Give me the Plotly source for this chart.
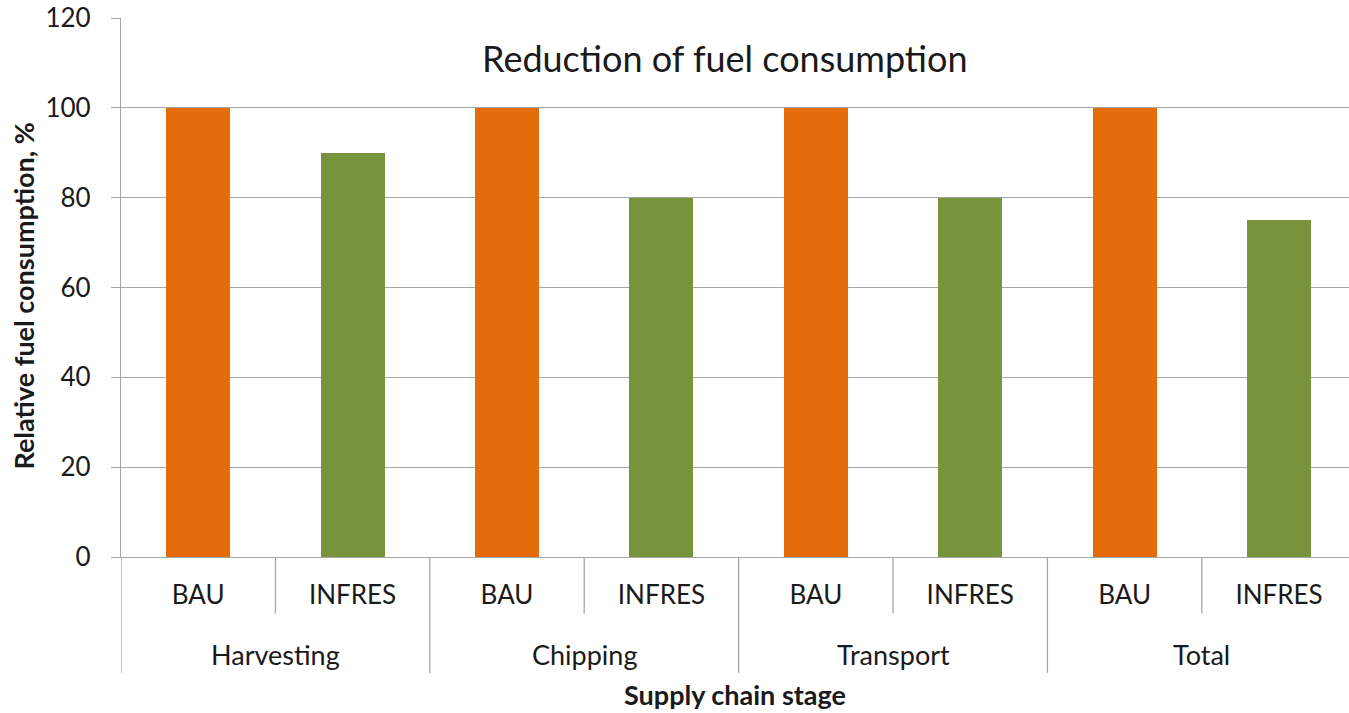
import plotly.graph_objects as go

stages = ["Harvesting", "Chipping", "Transport", "Total"]
scenarios = ["BAU", "INFRES"]
bau_values = [100, 100, 100, 100]
infres_values = [90, 80, 80, 75]
y_ticks = [0, 20, 40, 60, 80, 100, 120]

FONT = "Lato"
ORANGE = "#E46C0A"
GREEN = "#77933C"
GRID = "#A6A6A6"
TXT = "#1a1a1a"

cats = []
vals = []
colors = []
ticktext = []
for i, s in enumerate(stages):
    for sc, v, c in ((scenarios[0], bau_values[i], ORANGE), (scenarios[1], infres_values[i], GREEN)):
        cats.append(f"{s}|{sc}")
        vals.append(v)
        colors.append(c)
        ticktext.append(sc)

fig = go.Figure()
fig.add_trace(go.Bar(x=cats, y=vals, marker=dict(color=colors, line=dict(width=0)),
                     width=0.415, showlegend=False))

n = len(cats)
shapes = []
shapes.append(dict(type="line", xref="x", yref="paper", x0=-0.5, x1=-0.5, y0=0, y1=-0.215,
                   line=dict(color=GRID, width=1.3)))
for k in range(1, n):
    long = (k % 2 == 0)
    shapes.append(dict(type="line", xref="x", yref="paper", x0=k - 0.5, x1=k - 0.5,
                       y0=0, y1=-0.215 if long else -0.105,
                       line=dict(color=GRID, width=1.3)))

annotations = []
for i, s in enumerate(stages):
    annotations.append(dict(text=s, xref="x", yref="paper", x=2 * i + 0.5, y=-0.18,
                            showarrow=False, font=dict(family=FONT, size=27, color=TXT),
                            xanchor="center", yanchor="middle"))
annotations.append(dict(text="Reduction of fuel consumption", xref="paper", yref="paper",
                        x=0.4915, y=0.925, showarrow=False, xanchor="center", yanchor="middle",
                        font=dict(family=FONT, size=36, color=TXT)))
annotations.append(dict(text="<b>Supply chain stage</b>", xref="paper", yref="paper",
                        x=0.5, y=-0.255, showarrow=False, xanchor="center", yanchor="middle",
                        font=dict(family=FONT, size=27, color=TXT)))
annotations.append(dict(text="<b>Relative fuel consumption, %</b>", xref="paper", yref="paper",
                        x=-0.079, y=0.485, showarrow=False, xanchor="center", yanchor="middle",
                        textangle=-90, font=dict(family=FONT, size=27, color=TXT)))

fig.update_layout(
    width=1349, height=713,
    margin=dict(l=121, r=0, t=18, b=156),
    paper_bgcolor="white", plot_bgcolor="white",
    shapes=shapes, annotations=annotations,
    bargap=0,
)
fig.update_xaxes(
    type="category", categoryorder="array", categoryarray=cats,
    range=[-0.5, 7.453],
    tickvals=cats, ticktext=ticktext,
    tickfont=dict(family=FONT, size=26, color=TXT),
    ticks="", showgrid=False, showline=True, linecolor=GRID, linewidth=1.3,
    ticklabelstandoff=15, zeroline=False,
)
fig.update_yaxes(
    range=[0, 120], tickvals=y_ticks,
    tickfont=dict(family=FONT, size=26, color=TXT),
    showgrid=True, gridcolor=GRID, gridwidth=1.3,
    ticks="outside", ticklen=9, tickcolor=GRID, tickwidth=1.3,
    showline=True, linecolor=GRID, linewidth=1.3,
    ticklabelstandoff=15, zeroline=False,
)

fig.write_html("out.html")
